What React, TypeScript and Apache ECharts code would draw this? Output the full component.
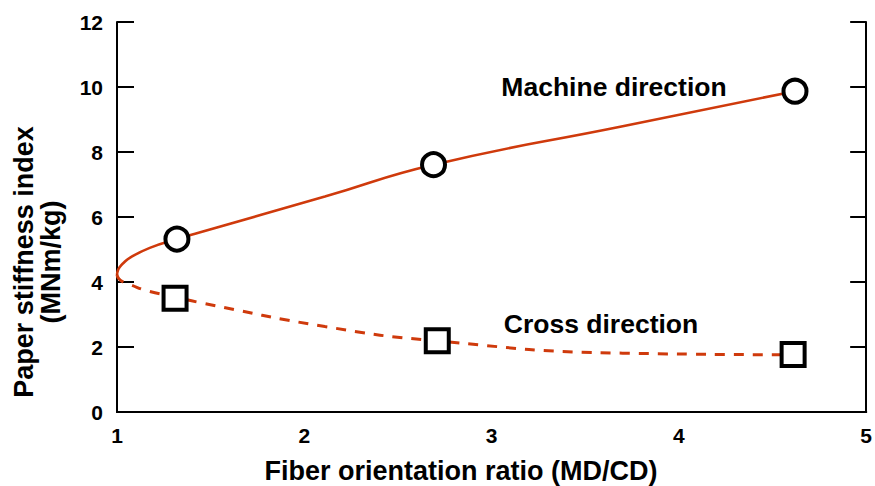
import React, { useEffect, useRef } from "react";
import * as echarts from "echarts";

const xTicks = [1, 2, 3, 4, 5];
const yTicks = [0, 2, 4, 6, 8, 10, 12];

// Fitted curves [fiber orientation ratio, stiffness index]
const mdCurve: [number, number][] = [
  [1.0, 4.22], [1.005, 4.36], [1.015, 4.46], [1.03, 4.56], [1.07, 4.75], [1.175, 5.05], [1.32, 5.32],
  [1.44, 5.52], [2.11, 6.63], [2.69, 7.61], [3.7, 8.79], [4.62, 9.87],
];
const cdCurve: [number, number][] = [
  [1.0, 4.22], [1.01, 4.1], [1.034, 4.0], [1.07, 3.92], [1.16, 3.73], [1.31, 3.54],
  [1.44, 3.37], [2.11, 2.63], [2.7, 2.19], [3.7, 1.81], [4.62, 1.76],
];

// Measured points
const mdPoints: [number, number][] = [[1.32, 5.32], [2.69, 7.61], [4.62, 9.87]];
const cdPoints: [number, number][] = [[1.31, 3.5], [2.71, 2.19], [4.61, 1.77]];

const xTitle = "Fiber orientation ratio (MD/CD)";
const yTitle1 = "Paper stiffness index";
const yTitle2 = "(MNm/kg)";
const mdLabel = "Machine direction";
const cdLabel = "Cross direction";

const FONT = "'Liberation Sans', Arial, Helvetica, sans-serif";
const RED = "#cf3a0c";

export default function App() {
  const ref = useRef<HTMLDivElement>(null);
  useEffect(() => {
    document.body.style.margin = "0";
    if (!ref.current) return;
    const chart = echarts.init(ref.current, null, { renderer: "svg" });
    const tickLabel = { fontFamily: FONT, fontWeight: "bold" as const, fontSize: 21, color: "#000" };
    const axisLine = { show: true, lineStyle: { color: "#000", width: 2 } };
    chart.setOption({
      animation: false,
      backgroundColor: "#fff",
      grid: { left: 117, right: 6, top: 22, bottom: 74 },
      xAxis: [
        {
          type: "value", min: xTicks[0], max: xTicks[xTicks.length - 1], interval: 1,
          axisLine, axisTick: { show: false }, splitLine: { show: false },
          axisLabel: { ...tickLabel, margin: 13, formatter: (v: number) => (xTicks.includes(v) ? String(v) : "") },
        },
        {
          type: "value", position: "top", min: 1, max: 5, interval: 1,
          axisLine, axisTick: { show: false }, splitLine: { show: false }, axisLabel: { show: false },
        },
      ],
      yAxis: [
        {
          type: "value", min: yTicks[0], max: yTicks[yTicks.length - 1], interval: 2,
          axisLine, splitLine: { show: false },
          axisTick: { show: true, inside: true, length: 17, lineStyle: { color: "#000", width: 2 } },
          axisLabel: { ...tickLabel, margin: 14 },
        },
        {
          type: "value", position: "right", min: 0, max: 12, interval: 2,
          axisLine, splitLine: { show: false },
          axisTick: { show: true, inside: true, length: 16, lineStyle: { color: "#000", width: 2 } },
          axisLabel: { show: false },
        },
      ],
      series: [
        {
          type: "line", data: mdCurve, smooth: 0.5, symbol: "none",
          lineStyle: { color: RED, width: 2.6 }, z: 2,
        },
        {
          type: "line", data: cdCurve, smooth: 0.5, symbol: "none",
          lineStyle: { color: RED, width: 3, type: [10, 9] }, z: 2,
        },
        {
          type: "scatter", data: mdPoints, symbol: "circle", symbolSize: 23,
          itemStyle: { color: "#fff", borderColor: "#000", borderWidth: 4, opacity: 1 }, z: 5,
        },
        {
          type: "scatter", data: cdPoints, symbol: "rect", symbolSize: 23,
          itemStyle: { color: "#fff", borderColor: "#000", borderWidth: 4, opacity: 1 }, z: 5,
        },
      ],
      graphic: [
        {
          type: "text", x: 614, y: 87,
          style: { text: mdLabel, font: `bold 26.5px ${FONT}`, fill: "#000", align: "center", verticalAlign: "middle" },
        },
        {
          type: "text", x: 601, y: 324,
          style: { text: cdLabel, font: `bold 26.5px ${FONT}`, fill: "#000", align: "center", verticalAlign: "middle" },
        },
        {
          type: "text", x: 461, y: 471,
          style: { text: xTitle, font: `bold 27px ${FONT}`, fill: "#000", align: "center", verticalAlign: "middle" },
        },
        {
          type: "text", x: 24, y: 262, rotation: Math.PI / 2,
          style: { text: yTitle1, font: `bold 27px ${FONT}`, fill: "#000", align: "center", verticalAlign: "middle" },
        },
        {
          type: "text", x: 51, y: 262, rotation: Math.PI / 2,
          style: { text: yTitle2, font: `bold 27px ${FONT}`, fill: "#000", align: "center", verticalAlign: "middle" },
        },
      ],
    });
    return () => chart.dispose();
  }, []);
  return <div ref={ref} style={{ width: 875, height: 486 }} />;
}
